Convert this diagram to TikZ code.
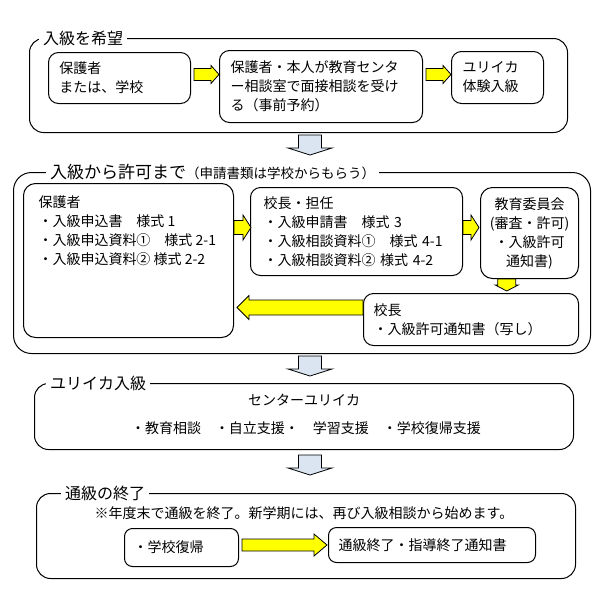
\documentclass[tikz,border=0pt]{standalone}
\usepackage{fontspec}
\setmainfont{Noto Sans CJK JP}
\usepackage{tikz}
\usetikzlibrary{positioning,calc}
\definecolor{flowyellow}{HTML}{FFFF00}
\definecolor{flowblue}  {HTML}{DBE5F1}
\newcommand\bodyfont{\fontsize{14pt}{19pt}\selectfont}
\newcommand\headfont{\fontsize{16pt}{20pt}\selectfont}
\newcommand\notefont{\fontsize{13.5pt}{16pt}\selectfont}

\begin{document}
\begin{tikzpicture}[x=1pt,y=-1pt,
  frame/.style={draw,line width=1pt,rounded corners=14pt,anchor=north west},
  heading/.style={fill=white,anchor=west,inner xsep=4pt,inner ysep=1pt,font=\headfont},
  box/.style={draw,line width=1pt,rounded corners=10pt,anchor=north west,
              align=left,inner xsep=11pt,inner ysep=0pt,font=\bodyfont},
  txt/.style={font=\bodyfont,inner sep=0pt},
  yarr/.style={draw,fill=flowyellow,line width=0.8pt},
  barr/.style={draw,fill=flowblue,line width=0.8pt},
  pics/blockarrow/.style n args={4}{code={
    \path[pic actions] (0,-#2) -- ({#1-#4},-#2) -- ({#1-#4},-#3) -- (#1,0)
      -- ({#1-#4},#3) -- ({#1-#4},#2) -- (0,#2) -- cycle;
  }}
]
\useasboundingbox (0,0) rectangle (598,614);

% 入級を希望
\node[frame,minimum width=538pt,minimum height=94pt] (wish) at (29,38) {};
\node[heading] at (39,38) {入級を希望\hspace{10pt}};
\node[box,minimum width=142pt,minimum height=51pt,text width=120pt] (parent) at (48,52)
  {保護者\\または、学校};
\node[box,minimum width=203pt,minimum height=72pt,text width=181pt] (interview) at (219,50)
  {保護者・本人が教育センタ\\ー相談室で面接相談を受け\\る（事前予約）};
\node[box,minimum width=92pt,minimum height=52pt,text width=70pt] (trial) at (451,51)
  {ユリイカ\\体験入級};
\pic[yarr] at ($(parent.east |- trial.west)+(3,-3)$) {blockarrow={25}{6}{9}{8}};
\pic[yarr] at ($(interview.east |- trial.west)+(3,-3)$) {blockarrow={25}{6}{9}{8}};

% 入級から許可まで
\node[frame,rounded corners=18pt,minimum width=577pt,minimum height=181pt] (permit) at (13,172) {};
\node[heading,font=\fontsize{17pt}{20pt}\selectfont] at (46,172)
  {入級から許可まで{\notefont（申請書類は学校からもらう）}\hspace{5pt}};
\node[box,rounded corners=12pt,inner xsep=15pt,inner ysep=12pt] (guardian) at (23,183)
  {\parbox[t][130pt][t]{180pt}{保護者\\・入級申込書　様式 1\\・入級申込資料①　様式 2-1\\・入級申込資料② 様式 2-2}};
\node[box,minimum width=212pt,minimum height=88pt,text width=186pt,inner xsep=13pt] (head) at (250,187)
  {校長・担任\\・入級申請書　様式 3\\・入級相談資料①　様式 4-1\\・入級相談資料② 様式 4-2};
\node[box,align=center,rounded corners=12pt,minimum width=98pt,minimum height=91pt,
      text width=80pt,inner xsep=9pt] (board) at (480,187)
  {教育委員会\\(審査・許可)\\・入級許可\\通知書)};
\node[box,minimum width=215pt,minimum height=52pt,text width=195pt,inner xsep=10pt] (copy) at (363,293)
  {校長\\・入級許可通知書（写し）};
\pic[yarr] at ($(guardian.east |- head.west)+(0,-4)$) {blockarrow={17}{7}{12.5}{8}};
\pic[yarr] at ($(head.east |- board.west)+(0,-5.5)$) {blockarrow={16}{7}{12.5}{8}};
\pic[yarr,rotate=-90] at ($(board.south west)!.27!(board.south east)$) {blockarrow={12}{9}{11.5}{6}};
\pic[yarr,rotate=180] at ($(copy.west)+(0,-12)$) {blockarrow={126}{7.5}{12}{12}};

% ユリイカ入級
\node[frame,minimum width=539pt,minimum height=66pt] (eureka) at (34,383) {};
\node[heading] at (46,383) {ユリイカ入級\hspace{5pt}};
\node[txt] (eurekaname) at ($(eureka.north)+(0,17)$) {センターユリイカ};
\node[txt] (services) at ($(eureka.north)+(2,45)$) {・教育相談　・自立支援・　学習支援　・学校復帰支援};

% 通級の終了
\node[frame,minimum width=539pt,minimum height=85pt] (ending) at (36,493) {};
\node[heading] at (61,493) {通級の終了\hspace{13pt}};
\node[txt] (note) at ($(ending.north)+(-2,20)$) {※年度末で通級を終了。新学期には、再び入級相談から始めます。};
\node[box,rounded corners=8pt,minimum width=114pt,minimum height=38pt,text width=96pt,inner xsep=9pt] (return) at (124,528)
  {・学校復帰};
\node[box,rounded corners=8pt,minimum width=207pt,minimum height=35pt,text width=187pt,inner xsep=10pt] (notice) at (328,527)
  {通級終了・指導終了通知書};
\pic[yarr] at ($(return.east |- notice.west)+(3,0)$) {blockarrow={85}{6}{11}{13}};

% flow between stages
\pic[barr,rotate=-90] at ($(wish.south -| 310,0)+(0,2)$) {blockarrow={20}{11.5}{22}{7}};
\pic[barr,rotate=-90] at ($(permit.south -| 310,0)+(0,2)$) {blockarrow={20}{11.5}{22}{7}};
\pic[barr,rotate=-90] at ($(eureka.south -| 310,0)+(0,5)$) {blockarrow={20}{11.5}{22}{7}};
\end{tikzpicture}
\end{document}
